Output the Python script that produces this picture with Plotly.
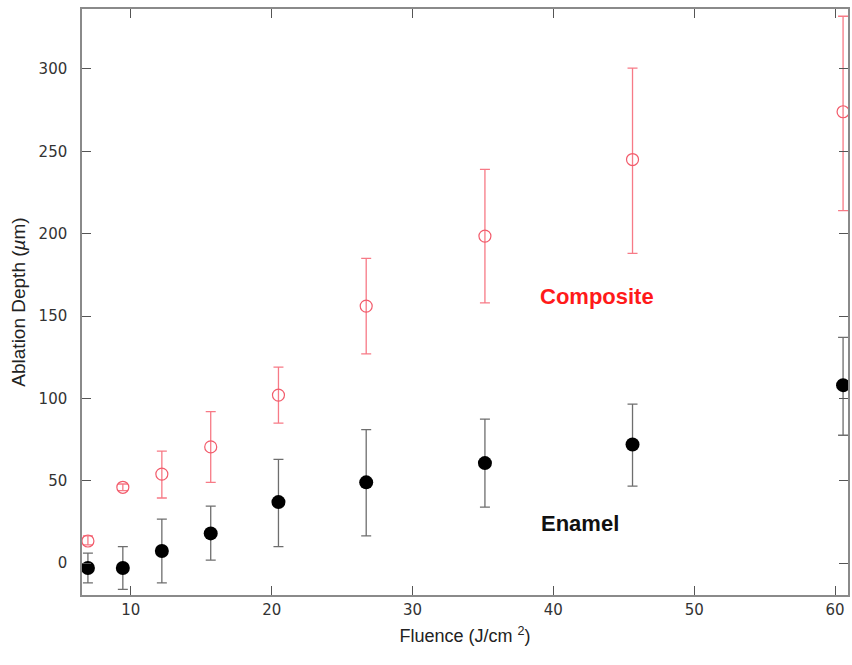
import plotly.graph_objects as go

fluence = [6.95, 9.43, 12.2, 15.67, 20.48, 26.71, 35.14, 45.62, 60.57]

composite = [13.4, 46, 54, 70.5, 102, 156, 198.5, 245, 274]
composite_hi = [16.5, 48, 68, 92, 119, 185, 239, 300.5, 332]
composite_lo = [11, 44, 39.5, 49, 85, 127, 158, 188, 214]

enamel = [-3, -3, 7.3, 18, 37, 49, 60.7, 72, 108]
enamel_hi = [6, 10, 26.7, 34.6, 63, 81, 87.4, 96.5, 137]
enamel_lo = [-12, -16, -12, 1.8, 10, 16.5, 34, 46.7, 77.6]

x_ticks = [10, 20, 30, 40, 50, 60]
y_ticks = [0, 50, 100, 150, 200, 250, 300]

fig = go.Figure()

fig.add_trace(go.Scatter(
    x=fluence, y=composite, mode="markers", name="Composite",
    marker=dict(symbol="circle-open", size=12, color="#f25b6b", line=dict(width=1.2, color="#f25b6b")),
    error_y=dict(type="data", symmetric=False,
                 array=[h - v for h, v in zip(composite_hi, composite)],
                 arrayminus=[v - l for v, l in zip(composite, composite_lo)],
                 color="#f77a86", thickness=1.3, width=5),
))

fig.add_trace(go.Scatter(
    x=fluence, y=enamel, mode="markers", name="Enamel",
    marker=dict(symbol="circle", size=14, color="black"),
    error_y=dict(type="data", symmetric=False,
                 array=[h - v for h, v in zip(enamel_hi, enamel)],
                 arrayminus=[v - l for v, l in zip(enamel, enamel_lo)],
                 color="#6e6e6e", thickness=1.3, width=5),
))

fig.add_annotation(x=43.07, y=162, text="<b>Composite</b>", showarrow=False,
                   font=dict(family="Liberation Sans, Arial", size=22, color="#ff1a1a"))
fig.add_annotation(x=41.9, y=24.3, text="<b>Enamel</b>", showarrow=False,
                   font=dict(family="Liberation Sans, Arial", size=22, color="#111111"))

axis_common = dict(showgrid=False, zeroline=False, showline=True, linecolor="#8a8a8a",
                   linewidth=1.5, mirror="ticks", ticks="inside", ticklen=9,
                   tickcolor="#555555", tickwidth=1.2,
                   tickfont=dict(family="DejaVu Sans", size=15, color="#333333"))

fig.update_xaxes(range=[6.53, 60.92], tickvals=x_ticks,
                 title=dict(text="Fluence (J/cm <sup>2</sup>)", standoff=12,
                            font=dict(family="Liberation Sans Narrow, Liberation Sans", size=18, color="#222222")),
                 **axis_common)
fig.update_yaxes(range=[-19.4, 336.4], tickvals=y_ticks, ticklabelstandoff=10,
                 title=dict(text="Ablation Depth (<i>µ</i>m)", standoff=8,
                            font=dict(family="Liberation Sans, Arial", size=19, color="#222222")),
                 **axis_common)

fig.update_layout(width=852, height=665, showlegend=False,
                  margin=dict(l=82, r=2, t=9, b=70),
                  plot_bgcolor="white", paper_bgcolor="white")

fig.write_html("out.html")
